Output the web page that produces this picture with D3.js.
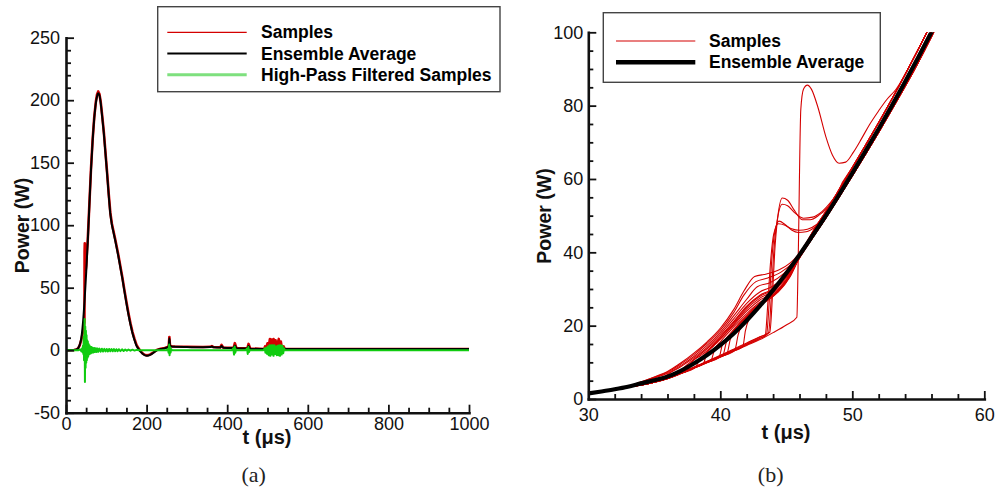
<!DOCTYPE html>
<html><head><meta charset="utf-8">
<script src="https://cdn.jsdelivr.net/npm/d3@7"></script>
<style>
body{margin:0;background:#fff}
svg{display:block}
</style></head><body>
<svg id="c" width="995" height="491"></svg>
<script>
// ================= DATA =================
const legendLeft = ["Samples", "Ensemble Average", "High-Pass Filtered Samples"];
const legendRight = ["Samples", "Ensemble Average"];
const yTitle = "Power (W)";
const xTitle = "t (\u03bcs)";
const captions = ["(a)", "(b)"];

const leftXTicks = [0, 200, 400, 600, 800, 1000];
const leftYTicks = [-50, 0, 50, 100, 150, 200, 250];
const rightXTicks = [30, 40, 50, 60];
const rightYTicks = [0, 20, 40, 60, 80, 100];

// Panel (a): ensemble average over the full record
const avgLT = [0,20,26,30,34,38,42,46,50,54,58,62,66,70,74,77,80,83,86,90,94,98,102,106,110,114,118,122,126,130,135,140,145,150,155,160,165,170,175,180,185,190,195,200,205,210,215,220,225,235,245,252,255,256.5,258,262,270,300,340,358,362,366,383,386,390,410,416,419,423,440,450,453,457,480,495,500,507,512,520,528,535,545,560,1000];
const avgLP = [0,0.1,0.6,1.5,4.3,9.7,21.4,39.3,61.6,86.5,116,144,167,185,197.5,203,205.5,204,198,186,173,157,141,124,109,100,94,88,81.5,75,66,57,47,37.5,28.5,20.5,13.5,8,3.5,1,-1.2,-2.8,-3.9,-4.4,-4.2,-3.5,-2.5,-1.3,-0.2,0.9,1.6,2.3,3.2,9.5,3.6,2.9,2.7,2.5,2.4,2.5,2.9,2.3,2.1,3.4,2.0,1.7,1.7,3.8,1.5,1.4,1.3,3.3,1.2,1.0,1.0,1.6,2.0,1.2,1.8,1.5,1.8,1.0,0.9,0.9];

// Panel (a): samples (one representative trace with its spikes)
const redLT = [0,20,26,30,34,38,42,45.8,46.1,46.6,47.4,48,49,50.1,52,54,58,62,66,70,74,77,80,83,86,90,94,98,102,106,110,114,118,122,126,130,135,140,145,150,155,160,165,170,175,180,185,190,195,200,205,210,215,220,225,235,245,252,255,256.5,258,262,270,300,340,358,362,366,383,386,390,410,416,419,423,440,450,453,457,480,492,494,496,500,502,506,508,510,512,515,517,520,522,528,530,533,536,540,543,560,1000];
const redLP = [0,0.1,0.6,1.5,3.8,8.4,14.6,22.3,79,85.6,79.5,71.5,64.3,67.4,79.3,88.5,117,145,168,186,198.5,204.5,207,205,199,187,174,158,142,125,110,101,95,89,82.5,76,67,58,48,38.5,29.5,21.5,14.5,9,4.2,1.5,-0.8,-2.5,-3.6,-4.1,-3.9,-3.2,-2.2,-1,0.1,1.1,1.8,2.5,3.5,10.6,3.8,3.1,2.9,2.7,2.6,2.7,3.3,2.5,2.3,4.2,2.2,1.9,1.9,5.6,1.7,1.6,1.5,5.0,1.4,1.1,0.9,3,1,5.5,1,9,2,8.5,1.5,9,2,8,1.5,9,2,7,1,3,0.9,0.9,0.9];

// Panel (a): high-pass filtered samples
const hpfT = [0,30,36,38,40,41,42,43,44,44.7,45.5,46.2,47,47.8,48.6,49.4,50.2,51,51.8,52.6,53.4,54.2,55,56,57,58,59,60,61.5,63,64.5,66,68,70,72,74,76,78,80,83,86,89,92,95,98,101,104,107,110,113,116,119,122,125,128,131,135,139,143,147,151,155,160,165,170,175,180,250,253,254.5,256,257,258,259.5,261,263,412,415,417,418.5,420,422,424,446,449,451,452.5,454,456,490,493,495,497,499,501,503,505,507,509,511,513,515,517,519,521,523,525,527,529,531,533,535,537,539,541,543,1000];
const hpfP = [0,0,0.5,-0.8,1.5,-1.5,3.5,-3,11,-8,6,25,-25.5,19,-14,15.5,-10,12,-8,8,-6,7,-5,5,-3.5,4,-3,3,-2.5,2.5,-2,2,-1.8,1.8,-1.5,1.5,-1.4,1.4,-1.3,1.3,-1.2,1.2,-1.1,1.1,-1.0,1.0,-1.0,1.0,-0.9,0.9,-0.9,0.9,-0.8,0.8,-0.8,0.8,-0.7,0.7,-0.6,0.6,-0.5,0.5,-0.4,0.4,-0.3,0.3,0,0,1,-2,4.5,-4,2.5,-2,1,0,0,1.5,-3.5,3,-2,0.5,0,0,1.2,-3,2.5,-1.5,0,0,1.5,-2,2,-3,3,-4,4,-4.5,4,-3.5,4,-4.5,4,-3,3,-4,3.5,-4,4,-4.5,4,-3.5,3.5,-2.5,1.5,0,0];

// Panel (b): ensemble average, early time
const avgRT = [30,31,32,33,34,35,36,37,38,39,40,41,42,43,44,45,46,47,48,49,50,51,52,53,54,55,56,57];
const avgRP = [1.5,2.05,2.65,3.35,4.25,5.1,6.1,7.7,9.7,12.0,14.7,17.8,21.4,25.4,29.7,34.3,39.3,44.6,50,55.7,61.6,67.6,73.7,80,86.5,93.2,100.1,107.2];

// Panel (b): samples — shared start, individual middles, three late-time tails
const headT = [30, 31, 32, 33];
const headP = [1.5, 2.05, 2.65, 3.3];
const tailT  = [47, 48, 49, 50, 51, 52, 53, 54, 55, 56, 57];
const tailLP = [45.6, 51.2, 57.1, 63.1, 69.2, 75.4, 81.8, 88.5, 95.4, 102.5, 110];
const tailMP = [44.6, 50.1, 55.8, 61.7, 67.7, 73.8, 80.1, 86.6, 93.3, 100.2, 107.3];
const tailRP = [44.0, 49.4, 55.0, 60.8, 66.7, 72.7, 78.9, 85.2, 91.8, 98.8, 106];

const samplePaths = [
  [[34,4.7],[35,6.0],[36,7.5],[37,9.8],[38,12.5],[39,15.6],[40,19.3],[41,24.3],[41.8,29.5],[42.6,33.4],[43.5,34.1],[44.5,35.3],[45.3,37.1],[46,39.8]],
  [[34,4.6],[35,5.9],[36,7.3],[37,9.5],[38,12.1],[39,15.2],[40,18.8],[41,23.5],[41.8,28.4],[42.7,32.0],[43.6,33.0],[44.6,34.6],[45.5,37.2],[46.2,40.3]],
  [[34,4.5],[35,5.7],[36,7.0],[37,9.1],[38,11.6],[39,14.6],[40,18.2],[41,22.6],[42,27.2],[42.8,30.6],[43.8,31.8],[44.8,34.2],[45.7,37.8]],
  [[34,4.0],[35,4.9],[35.5,5.4],[36,6.7],[37,8.8],[38,11.2],[39,14.1],[40,17.6],[41,21.8],[42,26.1],[43,29.2],[44,30.8],[45,33.8],[45.9,38.4]],
  [[34,3.9],[35,4.7],[36,5.7],[36.8,6.8],[37.2,8.4],[38,10.8],[39,13.7],[40,17.1],[41,21.1],[42,25.3],[43,28.3],[44,30.0],[45,33.4],[46,38.9]],
  [[34,3.85],[35,4.65],[36,5.6],[37,6.95],[37.5,7.7],[37.8,9.8],[38.5,11.8],[39,13.2],[40,16.8],[41,20.8],[42,25.0],[43,28.0],[44,29.8],[45,33.2],[46,38.8]],
  [[34,3.85],[35,4.6],[36,5.65],[37,7.0],[38.1,8.6],[38.4,10.5],[39,12.9],[40,16.4],[41,20.4],[42,24.6],[43,27.5],[44,29.4],[45,33.0],[46,38.7]],
  [[34,3.8],[35,4.6],[36,5.6],[37,7.0],[38,8.5],[38.7,9.5],[38.95,12.2],[39.5,14.5],[40,16.3],[41,20.1],[42,24.0],[43,27.0],[44,28.9],[45,32.6],[46,38.6]],
  [[34,3.8],[35,4.6],[36,5.6],[37,7.05],[38,8.6],[39,10.1],[39.3,10.5],[39.55,13.4],[40,15.6],[41,19.6],[42,23.3],[43,26.4],[44,28.5],[45,32.3],[46,38.5]],
  [[34,3.8],[35,4.55],[36,5.55],[37,6.95],[38,8.45],[39,9.95],[39.9,11.3],[40.15,14.8],[40.6,17.2],[41,18.9],[42,22.7],[43,25.9],[44,28.3],[45,32.2],[46,38.5]],
  [[34,3.8],[35,4.6],[36,5.6],[37,7.0],[38,8.55],[39,10.05],[40,11.6],[40.2,11.9],[40.45,15.4],[41,18.6],[42,22.2],[43,25.5],[44,28.0],[45,32.0],[46,38.4]],
  [[34,3.8],[35,4.6],[36,5.6],[37,7.0],[38,8.5],[39,10.0],[40,11.5],[40.5,12.3],[40.75,16.2],[41.2,19.4],[42,22.6],[43,25.7],[44,28.2],[45,32.4],[46,38.6]],
  [[34,3.8],[35,4.6],[36,5.6],[37,7.0],[38,8.5],[39,10.0],[40,11.5],[41.1,13.3],[41.35,17.5],[41.8,21.3],[42.4,24.2],[43.2,26.4],[44.2,28.8],[45.2,33.0],[46,38.6]],
  [[34,3.8],[35,4.6],[36,5.6],[37,7.0],[38,8.5],[39,10.0],[40,11.5],[41,13.1],[41.7,14.2],[41.9,18.6],[42.25,22.5],[42.8,25.2],[43.5,26.8],[44.4,29.2],[45.3,33.4],[46,38.7]],
  [[34,3.85],[35,4.7],[36,5.7],[37,7.1],[38,8.7],[39,10.3],[40,11.9],[41,13.6],[42,15.3],[43,17.0],[43.75,18.2],[43.95,28],[44.12,40],[44.35,49.5],[44.7,54.8],[45.1,54.2],[45.6,51.5],[46.2,48.9],[46.8,48.9],[47.5,50.2],[48.2,52.4],[48.8,55.0]],
  [[34,3.8],[35,4.65],[36,5.65],[37,7.05],[38,8.6],[39,10.2],[40,11.8],[41,13.4],[42,15.1],[43,16.9],[43.65,18.0],[43.85,27],[44.05,40],[44.3,48.5],[44.7,53.1],[45.1,52.7],[45.6,50.9],[46.3,49.3],[47,49.6],[47.7,51.1],[48.4,53.8],[49,56.8]],
  [[34,3.8],[35,4.6],[36,5.6],[37,7.0],[38,8.55],[39,10.1],[40,11.65],[41,13.2],[42,14.9],[43,16.6],[43.5,17.5],[43.7,26],[43.9,38],[44.15,46],[44.45,48.5],[44.9,47.6],[45.4,46.1],[45.9,45.4],[46.5,45.6],[47.2,46.9],[48,49.7],[48.7,53.6]],
  [[34,3.8],[35,4.6],[36,5.6],[37,7.0],[38,8.5],[39,10.05],[40,11.6],[41,13.2],[42,14.8],[43,16.5],[43.4,17.3],[43.6,26],[43.8,37],[44.05,45],[44.4,47.8],[44.9,47.4],[45.4,46.4],[46,46.0],[46.6,46.3],[47.3,47.6],[48,50.2],[48.7,54.2]],
  [[34,3.75],[35,4.55],[36,5.55],[37,6.9],[38,8.4],[39,9.9],[40,11.4],[41,13.0],[42,14.6],[43,16.2],[44,18.1],[45,20.2],[45.8,22.3],[45.9,38],[46.1,79],[46.3,84.5],[46.6,85.6],[46.9,84.5],[47.4,79.5],[48,71.5],[48.5,66.5],[49,64.3],[49.5,64.6],[50.1,67.4],[50.7,71],[51.3,74.8],[52,78.6],[52.6,81.6],[53.3,84.4]]
];
const sampleTails = ["L","L","M","M","M","L","R","R","M","R","R","M","R","M","L","L","M","M","L"];

// ================= DRAWING =================
const SANS = '"Liberation Sans",Arial,Helvetica,sans-serif';
const SERIF = '"Liberation Serif","DejaVu Serif",serif';
const svg = d3.select("#c");
const RED = "#d40000", GREEN = "#10cc10", LEGGREEN = "#7ee07e", AX = "#111";

const xL = d3.scaleLinear().domain([0, 1000]).range([66, 469]);
const yL = d3.scaleLinear().domain([-50, 250]).range([412.7, 37.7]);
const xR = d3.scaleLinear().domain([30, 60]).range([588.3, 984.3]);
const yR = d3.scaleLinear().domain([0, 100]).range([399, 32.3]);

function minorOf(majors, step) {
  const lo = majors[0], hi = majors[majors.length - 1];
  return d3.range(lo, hi + step / 2, step).filter(v => !majors.some(m => Math.abs(m - v) < 1e-9));
}
const fmt = d => String(d);

function drawAxes(x, y, xMaj, xStep, yMaj, yStep, xPad, yPad) {
  const y0 = y.range()[0], x0 = x.range()[0];
  const gxm = svg.append("g").attr("transform", `translate(0,${y0})`)
    .call(d3.axisBottom(x).tickValues(minorOf(xMaj, xStep)).tickSize(-5).tickSizeOuter(0).tickFormat(""));
  gxm.select(".domain").remove();
  const gym = svg.append("g").attr("transform", `translate(${x0},0)`)
    .call(d3.axisLeft(y).tickValues(minorOf(yMaj, yStep)).tickSize(-5).tickSizeOuter(0).tickFormat(""));
  gym.select(".domain").remove();
  const gx = svg.append("g").attr("transform", `translate(0,${y0})`)
    .call(d3.axisBottom(x).tickValues(xMaj).tickSize(-8).tickSizeOuter(0).tickPadding(xPad).tickFormat(fmt));
  const gy = svg.append("g").attr("transform", `translate(${x0},0)`)
    .call(d3.axisLeft(y).tickValues(yMaj).tickSize(-8).tickSizeOuter(0).tickPadding(yPad).tickFormat(fmt));
  [gxm, gym, gx, gy].forEach(g => {
    g.selectAll(".tick line").attr("stroke", AX).attr("stroke-width", 1.8);
    g.selectAll(".domain").attr("stroke", AX).attr("stroke-width", 2.6).attr("stroke-linecap", "square");
    g.selectAll("text").attr("fill", AX).style("font-size", "18px").style("font-family", SANS);
  });
}

function lineGen(x, y, curve) {
  return d3.line().x(d => x(d[0])).y(d => y(d[1])).curve(curve || d3.curveMonotoneX);
}
const zip = (T, P) => T.map((t, i) => [t, P[i]]);

// ---------- Panel (a) ----------
const gA = svg.append("g");
gA.append("path").datum(zip(redLT, redLP)).attr("d", lineGen(xL, yL, d3.curveLinear))
  .attr("fill", "none").attr("stroke", RED).attr("stroke-width", 2.6).attr("stroke-linejoin", "round");
gA.append("path").datum(zip(avgLT, avgLP)).attr("d", lineGen(xL, yL, d3.curveMonotoneX))
  .attr("fill", "none").attr("stroke", "#000").attr("stroke-width", 2);
gA.append("path").datum(zip(hpfT, hpfP)).attr("d", lineGen(xL, yL, d3.curveLinear))
  .attr("fill", "none").attr("stroke", GREEN).attr("stroke-width", 2).attr("stroke-linejoin", "round");

drawAxes(xL, yL, leftXTicks, 50, leftYTicks, 10, 5, 6);

// ---------- Panel (b) ----------
svg.append("clipPath").attr("id", "clipR").append("rect")
  .attr("x", xR.range()[0]).attr("y", yR.range()[1])
  .attr("width", xR.range()[1] - xR.range()[0]).attr("height", yR.range()[0] - yR.range()[1]);
const gB = svg.append("g").attr("clip-path", "url(#clipR)");
const tails = { L: tailLP, M: tailMP, R: tailRP };
samplePaths.forEach((pts, i) => {
  const last = pts[pts.length - 1][0];
  const tp = tails[sampleTails[i]];
  const full = zip(headT, headP).concat(pts, zip(tailT, tp).filter(d => d[0] > last + 0.05));
  gB.append("path").datum(full).attr("d", lineGen(xR, yR))
    .attr("fill", "none").attr("stroke", RED).attr("stroke-width", 1.1);
});
gB.append("path").datum(zip(avgRT, avgRP)).attr("d", lineGen(xR, yR))
  .attr("fill", "none").attr("stroke", "#000").attr("stroke-width", 4.2);

drawAxes(xR, yR, rightXTicks, 2, rightYTicks, 5, 9.5, 5);

// ---------- Titles ----------
function yLabel(x, cy) {
  svg.append("text").attr("transform", `translate(${x},${cy}) rotate(-90)`)
    .attr("text-anchor", "middle").style("font-weight", "bold").style("font-size", "19.5px")
    .style("font-family", SANS).attr("fill", AX).text(yTitle);
}
function xLabel(cx, y) {
  svg.append("text").attr("x", cx).attr("y", y).attr("text-anchor", "middle")
    .style("font-weight", "bold").style("font-size", "20px").style("font-family", SANS)
    .attr("fill", AX).text(xTitle);
}
yLabel(28.5, 225.5); yLabel(551, 216);
xLabel(267, 444); xLabel(786, 439);

[[253.7, captions[0]], [770.7, captions[1]]].forEach(([cx, s]) => {
  svg.append("text").attr("x", cx).attr("y", 482).attr("text-anchor", "middle")
    .style("font-family", SERIF).style("font-size", "22px").attr("fill", "#222").text(s);
});

// ---------- Legends ----------
function legend(box, lx1, lx2, tx, rows) {
  const g = svg.append("g");
  g.append("rect").attr("x", box[0]).attr("y", box[1]).attr("width", box[2]).attr("height", box[3])
    .attr("fill", "#fff").attr("stroke", "#444").attr("stroke-width", 1.4);
  rows.forEach(r => {
    g.append("line").attr("x1", lx1).attr("x2", lx2).attr("y1", r.y).attr("y2", r.y)
      .attr("stroke", r.color).attr("stroke-width", r.w);
    g.append("text").attr("x", tx).attr("y", r.y + 6).style("font-weight", "bold")
      .style("font-size", "17.5px").style("font-family", SANS).attr("fill", "#000").text(r.label);
  });
}
legend([157.7, 6.7, 342.3, 85], 167.3, 246.7, 261, [
  { label: legendLeft[0], color: RED, w: 1.3, y: 32.3 },
  { label: legendLeft[1], color: "#000", w: 2, y: 53.5 },
  { label: legendLeft[2], color: LEGGREEN, w: 3, y: 74.7 }
]);
legend([603.3, 12.7, 277, 69.6], 616, 695.3, 709, [
  { label: legendRight[0], color: RED, w: 1.1, y: 41 },
  { label: legendRight[1], color: "#000", w: 4.5, y: 62.3 }
]);
</script>
</body></html>
